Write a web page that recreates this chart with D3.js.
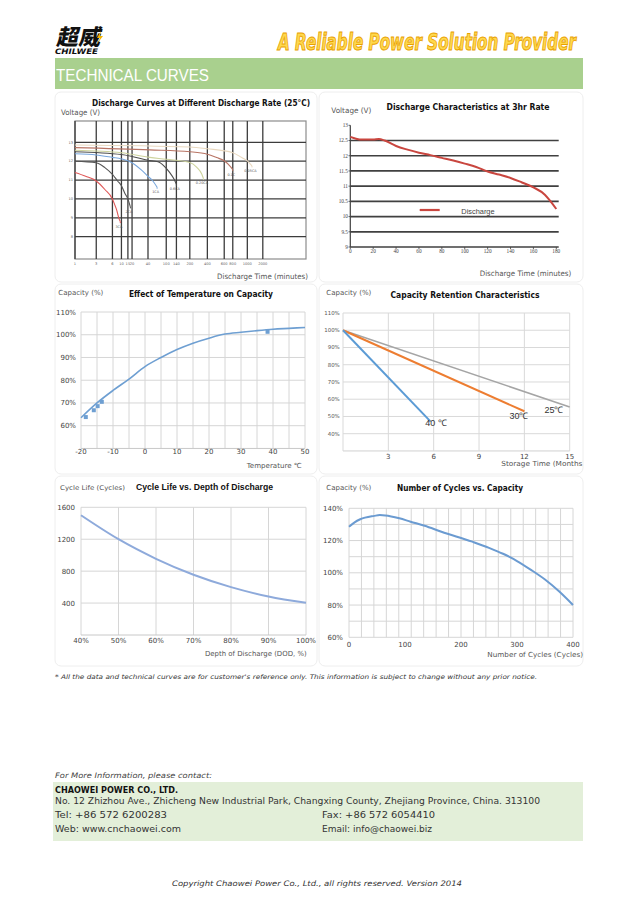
<!DOCTYPE html>
<html><head><meta charset="utf-8">
<script src="https://cdn.jsdelivr.net/npm/d3@7"></script>
<style>body{margin:0;background:#fff}svg{display:block}</style></head>
<body><svg id="c" width="638" height="903"></svg>
<script>
// ---------------- DATA ----------------
// Chart 1: Discharge curves at different discharge rate
const dcTimeTicks = [1,3,6,10,15,20,40,100,140,200,400,600,800,1000,2000];
const dcVoltTicks = [13,12,11,10,9,8];
const dcRateLabels = ["3CA","2CA","1CA","0.6CA","0.20CA","0.1C","0.05CA"];
const dc3CA  = [[1,11.4],[2,11.2],[3,10.95],[4.6,10.5],[6,10.0],[7,9.7],[7.8,9.45],[8.8,9.0],[9.5,8.8]];
const dc2CA  = [[1,12.0],[3,11.92],[4.6,11.66],[6,11.3],[8.3,10.95],[10,10.7],[12.8,10.28],[15,10.0],[17,9.72],[18,9.58]];
const dc1CA  = [[1,12.39],[3,12.33],[6,12.2],[10,12.12],[20,11.92],[31.6,11.54],[40,11.2],[56,10.95],[70,10.62]];
const dc06CA = [[1,12.5],[10,12.35],[20,12.25],[40,12.05],[73,11.97],[93,11.74],[114,11.39],[131,11.04],[140,10.77]];
const dc02CA = [[1,12.58],[10,12.45],[46,12.2],[100,12.1],[200,11.93],[280,11.67],[336,11.32],[355,11.09]];
const dc01C  = [[1,12.72],[46,12.6],[200,12.5],[400,12.37],[510,12.19],[600,12.02],[740,11.72],[800,11.55]];
const dc005CA= [[1,12.86],[200,12.75],[400,12.66],[800,12.45],[923,12.19],[1000,12.02],[1300,11.75]];

// Chart 2: Discharge characteristics at 3hr rate
const r3TimeTicks = [0,20,40,60,80,100,120,140,160,180];
const r3VoltTicks = [13,12.5,12,11.5,11,10.5,10,9.5,9];
const r3Time = [0,5,10,20,25,30,40,50,60,70,80,90,100,110,120,130,140,150,160,170,175,180];
const r3Volt = [12.62,12.56,12.53,12.53,12.55,12.5,12.32,12.2,12.1,12.02,11.93,11.84,11.74,11.63,11.48,11.38,11.27,11.12,10.96,10.72,10.5,10.25];

// Chart 3: Effect of temperature on capacity
const tempTicks = [-20,-10,0,10,20,30,40,50];
const tempCapTicks = [110,100,90,80,70,60];
const tempC   = [-20,-15,-10,-5,0,5,10,15,20,25,30,35,40,45,50];
const tempCap = [63.5,70,75.5,80.5,86,90,93.5,96.3,98.5,100.3,101.1,101.8,102.4,102.8,103.2];
const tempPts = [[-18.5,63.8],[-16,66.8],[-14.8,68.6],[-13.5,70.5],[38.3,101.3]];

// Chart 4: Capacity retention
const retMonthTicks = [3,6,9,12,15];
const retCapTicks = [110,100,90,80,70,60,50,40];
const retSeries = [
  {name:"25℃", color:"#a5a5a5", pts:[[0,100],[15,55.5]]},
  {name:"30℃", color:"#ed7d31", pts:[[0,100],[12,53]]},
  {name:"40 ℃", color:"#5b9bd5", pts:[[0,100],[5.8,47]]}
];

// Chart 5: Cycle life vs DOD
const dodTicks = [40,50,60,70,80,90,100];
const lifeTicks = [1600,1200,800,400];
const dod   = [40,50,60,70,80,90,100];
const life  = [1500,1200,955,755,600,483,403];

// Chart 6: Number of cycles vs capacity
const cycTicks = [0,100,200,300,400];
const cycCapTicks = [140,120,100,80,60];
const cycles = [0,10,20,45,55,65,90,110,135,165,220,250,275,300,325,350,375,400];
const cycCap = [128.5,131.3,133.2,135.3,135.8,135.6,133.8,131.7,129.2,125.5,119.3,115.5,111.8,107.3,101.8,95.8,88.5,80];

// ---------------- DRAW ----------------
const svg = d3.select("#c");
const SANS = "'DejaVu Sans', 'Liberation Sans', sans-serif";
const ARIAL = "'Liberation Sans', Arial, sans-serif";
const SERIF = "'Liberation Serif', 'DejaVu Serif', serif";
function T(g, x, y, s, o={}) {
  const t = g.append("text").attr("x",x).attr("y",y).text(s)
    .attr("font-family", o.ff || SANS).attr("font-size", o.fs || 8)
    .attr("fill", o.fill || "#333");
  if (o.fw) t.attr("font-weight", o.fw);
  if (o.it) t.attr("font-style","italic");
  if (o.anchor) t.attr("text-anchor", o.anchor);
  if (o.len) t.attr("textLength", o.len).attr("lengthAdjust","spacingAndGlyphs");
  return t;
}
function hline(g,x0,x1,y,c,w){g.append("line").attr("x1",x0).attr("x2",x1).attr("y1",y).attr("y2",y).attr("stroke",c).attr("stroke-width",w);}
function vline(g,x,y0,y1,c,w){g.append("line").attr("x1",x).attr("x2",x).attr("y1",y0).attr("y2",y1).attr("stroke",c).attr("stroke-width",w);}

// Header
const hdr = svg.append("g");
T(hdr, 0, 0, "超威", {ff:"'Noto Sans CJK SC', sans-serif", fs:22, fw:900, fill:"#111", len:44})
  .attr("transform","translate(56,45) skewX(-12)");
hdr.append("path").attr("d","M101,31 L97,38 L100,38 L97,44 L103,36 L100,36 Z").attr("fill","#f4b400");
T(hdr, 55, 53.5, "CHILWEE", {ff:SANS, fs:7.5, fw:"bold", it:true, fill:"#111", len:43});
T(hdr, 0, 0, "A Reliable Power Solution Provider",
  {ff:"'Liberation Sans Narrow', 'DejaVu Sans Condensed', sans-serif", fs:17, fw:"bold", it:true, fill:"#ffd84d", len:298})
  .attr("transform","translate(278,50) scale(1,1.35)")
  .attr("stroke","#e8a100").attr("stroke-width",0.7);
hdr.append("rect").attr("x",55).attr("y",58).attr("width",528).attr("height",31).attr("fill","#a9d08e");
T(hdr, 56, 81, "TECHNICAL CURVES", {ff:ARIAL, fs:16, fill:"#fff", len:153});

// Panels
const panels = [[55,92,262,190],[319,92,264,190],[55,284,262,190],[319,284,264,190],[55,476,262,190],[319,476,264,190]];
svg.append("g").selectAll("rect").data(panels).join("rect")
  .attr("x",d=>d[0]).attr("y",d=>d[1]).attr("width",d=>d[2]).attr("height",d=>d[3]).attr("rx",6)
  .attr("fill","none").attr("stroke","#eeeeee").attr("stroke-width",1);

// ---------- Chart 1 ----------
{
  const g = svg.append("g");
  const X0 = 75, X1 = 306, Y0 = 121, Y1 = 259;
  const tickFrac = [0,0.092,0.162,0.201,0.229,0.247,0.316,0.395,0.439,0.497,0.573,0.646,0.683,0.746,0.813];
  const x = d3.scaleLinear().domain(dcTimeTicks).range(tickFrac.map(f=>X0+f*(X1-X0)));
  const y = d3.scaleLinear().domain([13,8]).range([142.3,236.7]);
  g.append("rect").attr("x",X0).attr("y",Y0).attr("width",X1-X0).attr("height",Y1-Y0).attr("fill","none").attr("stroke","#8c8c8c").attr("stroke-width",1.2);
  dcTimeTicks.forEach(t=>vline(g,x(t),Y0,Y1,"#3c3c3c",1.3));
  dcVoltTicks.forEach(v=>hline(g,X0,X1,y(v),"#3c3c3c",1.3));
  dcVoltTicks.forEach(v=>T(g,73,y(v)+1.2,v,{fs:3.6,anchor:"end",fill:"#666"}));
  dcTimeTicks.forEach(t=>T(g,x(t),265,t,{fs:3.6,anchor:"middle",fill:"#666"}));
  const series = [dc3CA,dc2CA,dc1CA,dc06CA,dc02CA,dc01C,dc005CA];
  const colors = ["#e05858","#555555","#79a7dc","#4d4d4d","#cdd39c","#b87464","#e9d8bf"];
  const line = d3.line().x(d=>x(d[0])).y(d=>y(d[1])).curve(d3.curveMonotoneX);
  series.forEach((s,i)=>{
    g.append("path").attr("d",line(s)).attr("fill","none").attr("stroke",colors[i]).attr("stroke-width",1.1);
    const e = s[s.length-1];
    vline(g,x(e[0]),y(e[1]),y(e[1])+1.5,colors[i],1);
    T(g,x(e[0])-1.5,y(e[1])+6,dcRateLabels[i],{fs:3.4,anchor:"middle",fill:"#555"});
  });
  T(g,201,105.5,"Discharge Curves at Different Discharge Rate (25°C)",{fs:8.5,fw:"bold",fill:"#111",anchor:"middle",len:218});
  T(g,61,115,"Voltage (V)",{fs:7.5,fill:"#555",len:39});
  T(g,217,278.5,"Discharge Time (minutes)",{fs:7.5,fill:"#555",len:91});
}

// ---------- Chart 2 ----------
{
  const g = svg.append("g");
  const x = d3.scaleLinear().domain([0,180]).range([350.3,556.3]);
  const y = d3.scaleLinear().domain([9,13]).range([247,125.3]);
  r3VoltTicks.filter(v=>v<13).forEach(v=>hline(g,350.3,558.7,y(v),"#404040",1.7));
  vline(g,350.3,y(13),y(9),"#404040",1.2);
  r3VoltTicks.forEach(v=>{hline(g,348.5,350.3,y(v),"#404040",0.8); T(g,348,y(v)+1.8,v,{ff:SERIF,fs:5.3,anchor:"end",fill:"#444"});});
  r3TimeTicks.forEach(t=>{vline(g,x(t),247,249,"#404040",0.8); T(g,x(t),253,t,{ff:SERIF,fs:5.3,anchor:"middle",fill:"#444"});});
  const pts = r3Time.map((t,i)=>[t,r3Volt[i]]);
  g.append("path").attr("d",d3.line().x(d=>x(d[0])).y(d=>y(d[1])).curve(d3.curveMonotoneX)(pts))
    .attr("fill","none").attr("stroke","#c9463f").attr("stroke-width",2);
  hline(g,419.7,439.7,210,"#c9463f",2.2);
  T(g,461.3,213.5,"Discharge",{ff:ARIAL,fs:7.5,fill:"#444",len:33.3});
  T(g,468,109.5,"Discharge Characteristics at 3hr Rate",{fs:8.5,fw:"bold",fill:"#111",anchor:"middle",len:163});
  T(g,331.3,113,"Voltage (V)",{fs:7.5,fill:"#555",len:40});
  T(g,479.7,275.5,"Discharge Time (minutes)",{fs:7.5,fill:"#555",len:91.6});
}

// ---------- Chart 3 ----------
{
  const g = svg.append("g");
  const x = d3.scaleLinear().domain([-20,50]).range([81,305]);
  const y = d3.scaleLinear().domain([60,110]).range([425.7,312]);
  d3.range(-20,51,5).forEach(t=>vline(g,x(t),y(110),y(50),"#d6d6d6",1));
  tempCapTicks.forEach(v=>hline(g,x(-20),x(50),y(v),"#d6d6d6",1));
  hline(g,x(-20),x(50),y(50),"#c8c8c8",1);
  tempCapTicks.forEach(v=>T(g,76,y(v)+2.5,v+"%",{fs:7,anchor:"end",fill:"#444"}));
  tempTicks.forEach(t=>T(g,x(t),454,t,{fs:7,anchor:"middle",fill:"#444"}));
  g.append("path").attr("d",d3.line().x((d,i)=>x(d)).y((d,i)=>y(tempCap[i])).curve(d3.curveMonotoneX)(tempC))
    .attr("fill","none").attr("stroke","#6e9fd2").attr("stroke-width",1.6);
  g.selectAll("rect.pt").data(tempPts).join("rect").attr("class","pt")
    .attr("x",d=>x(d[0])-2).attr("y",d=>y(d[1])-2).attr("width",4).attr("height",4).attr("fill","#6e9fd2");
  T(g,201,297,"Effect of Temperature on Capacity",{fs:8.5,fw:"bold",fill:"#111",anchor:"middle",len:144});
  T(g,58.3,295,"Capacity (%)",{fs:7,fill:"#555",len:45});
  T(g,246.7,467.5,"Temperature ℃",{fs:7,fill:"#555",len:55});
}

// ---------- Chart 4 ----------
{
  const g = svg.append("g");
  g.append("clipPath").attr("id","cp4").append("rect").attr("x",319).attr("y",284).attr("width",264).attr("height",190);
  const x = d3.scaleLinear().domain([0,15]).range([343,569.7]);
  const y = d3.scaleLinear().domain([40,110]).range([433.7,313]);
  retCapTicks.forEach(v=>hline(g,x(0),x(15),y(v),"#d9d9d9",1));
  hline(g,x(0),x(15),y(30),"#d0d0d0",1);
  [0].concat(retMonthTicks).forEach(t=>vline(g,x(t),y(110),y(30),"#d9d9d9",1));
  retCapTicks.forEach(v=>T(g,339.7,y(v)+2,v+"%",{fs:5.4,anchor:"end",fill:"#555"}));
  retMonthTicks.forEach(t=>T(g,x(t),459,t,{fs:7,anchor:"middle",fill:"#444"}));
  const line = d3.line().x(d=>x(d[0])).y(d=>y(d[1]));
  retSeries.forEach(s=>g.append("path").attr("d",line(s.pts)).attr("fill","none").attr("stroke",s.color).attr("stroke-width",s.name==="25℃"?1.6:2));
  const lab = [[554,413],[519,418.5],[436,426]];
  retSeries.forEach((s,i)=>T(g,lab[i][0],lab[i][1],s.name,{ff:ARIAL,fs:9,anchor:"middle",fill:"#333"}));
  T(g,465,297.5,"Capacity Retention Characteristics",{fs:8.5,fw:"bold",fill:"#111",anchor:"middle",len:149});
  T(g,326.3,295,"Capacity (%)",{fs:7,fill:"#555",len:45});
  T(g,501.3,465.7,"Storage Time (Months)",{fs:7,fill:"#555",len:84}).attr("clip-path","url(#cp4)");
}

// ---------- Chart 5 ----------
{
  const g = svg.append("g");
  const x = d3.scaleLinear().domain([40,100]).range([81,306]);
  const y = d3.scaleLinear().domain([0,1600]).range([635,507.3]);
  dodTicks.forEach(t=>vline(g,x(t),y(1600),y(0),"#d6d6d6",1));
  lifeTicks.forEach(v=>hline(g,x(40),x(100),y(v),"#d6d6d6",1));
  hline(g,x(40),x(100),y(0),"#c8c8c8",1);
  lifeTicks.forEach(v=>T(g,75,y(v)+2.5,v,{fs:7,anchor:"end",fill:"#444"}));
  dodTicks.forEach(t=>T(g,x(t),642.5,t+"%",{fs:7,anchor:"middle",fill:"#444"}));
  g.append("path").attr("d",d3.line().x(d=>x(d)).y((d,i)=>y(life[i])).curve(d3.curveMonotoneX)(dod))
    .attr("fill","none").attr("stroke","#8eaadb").attr("stroke-width",2);
  T(g,136,490,"Cycle Life vs. Depth of Discharge",{ff:ARIAL,fs:9,fw:"bold",fill:"#111",len:137});
  T(g,60,490,"Cycle Life (Cycles)",{fs:6.5,fill:"#555",len:65});
  T(g,205,655.7,"Depth of Discharge (DOD, %)",{fs:7,fill:"#555",len:101.7});
}

// ---------- Chart 6 ----------
{
  const g = svg.append("g");
  const x = d3.scaleLinear().domain([0,400]).range([349,573]);
  const y = d3.scaleLinear().domain([60,140]).range([637.3,508.3]);
  d3.range(0,18.01,1).map(i=>i*400/18).forEach(t=>vline(g,x(t),y(140),y(60),"#d6d6d6",1));
  d3.range(60,140.1,10).forEach(v=>hline(g,x(0),x(400),y(v),"#d6d6d6",1));
  cycCapTicks.forEach(v=>T(g,343,y(v)+2.5,v+"%",{fs:7,anchor:"end",fill:"#444"}));
  cycTicks.forEach(t=>T(g,x(t),647,t,{fs:7,anchor:"middle",fill:"#444"}));
  g.append("path").attr("d",d3.line().x(d=>x(d)).y((d,i)=>y(cycCap[i])).curve(d3.curveMonotoneX)(cycles))
    .attr("fill","none").attr("stroke","#6b9bd1").attr("stroke-width",2);
  T(g,460,491,"Number of Cycles vs. Capacity",{fs:8.5,fw:"bold",fill:"#111",anchor:"middle",len:126});
  T(g,326.3,490,"Capacity (%)",{fs:7,fill:"#555",len:45});
  T(g,487.3,656.7,"Number of Cycles (Cycles)",{fs:7,fill:"#555",len:95.7});
}

// ---------- Footer ----------
{
  const g = svg.append("g");
  T(g,55,679,"* All the data and technical curves are for customer's reference only.  This information is subject to change without any prior notice.",{fs:6.3,it:true,fill:"#333",len:482});
  T(g,55,777.5,"For More Information, please contact:",{fs:7.5,it:true,fill:"#444",len:157});
  g.append("rect").attr("x",53).attr("y",782).attr("width",530).attr("height",59).attr("fill","#e3efd9");
  T(g,55,793,"CHAOWEI POWER CO., LTD.",{fs:8,fw:"bold",fill:"#111",len:123});
  T(g,55,803.5,"No. 12 Zhizhou Ave., Zhicheng New Industrial Park, Changxing County, Zhejiang Province, China. 313100",{fs:8,fill:"#333",len:485});
  T(g,55,818,"Tel: +86 572 6200283",{fs:8,fill:"#333",len:112});
  T(g,322,818,"Fax: +86 572 6054410",{fs:8,fill:"#333",len:113});
  T(g,55,832,"Web: www.cnchaowei.com",{fs:8,fill:"#333",len:126});
  T(g,322,832,"Email:  info@chaowei.biz",{fs:8,fill:"#333",len:110});
  T(g,172,886,"Copyright Chaowei Power Co., Ltd., all rights reserved. Version 2014",{fs:7.5,it:true,fill:"#333",len:290});
}
</script></body></html>
